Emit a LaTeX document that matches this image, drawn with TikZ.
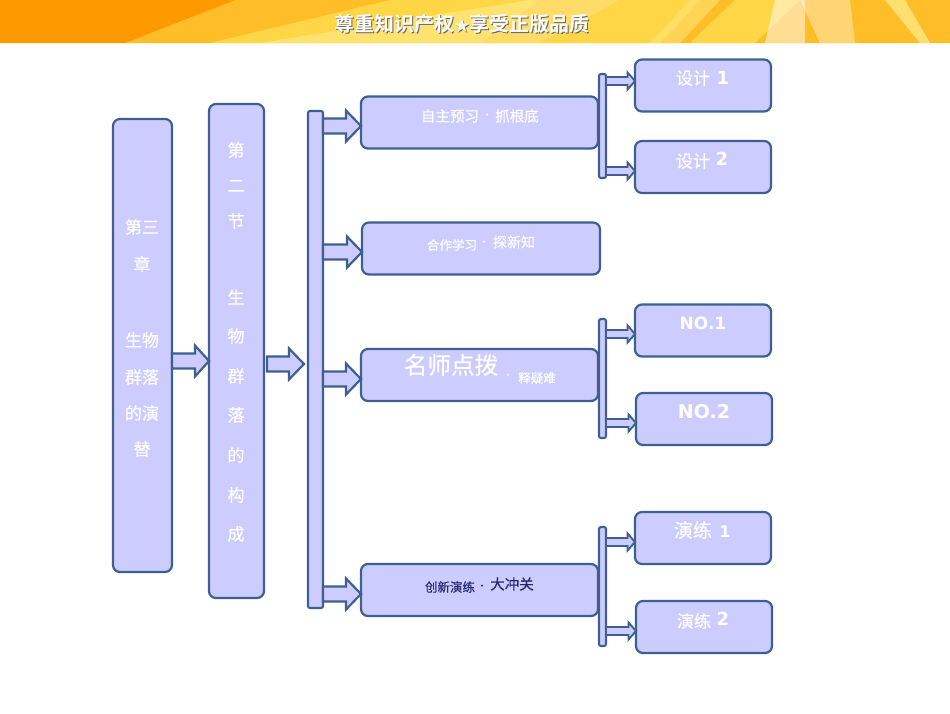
\documentclass[tikz,border=0pt]{standalone}
\usepackage{fontspec}
\usetikzlibrary{calc}
\setmainfont{DejaVu Sans}
\newfontfamily\cjk[FakeBold=0.35]{Noto Sans CJK SC}
\newfontfamily\cjkb{Noto Sans CJK SC Bold}
\definecolor{fillb}{RGB}{204,204,255}
\definecolor{edgeb}{RGB}{62,96,144}
\definecolor{darkt}{RGB}{38,38,110}
\definecolor{bo}{RGB}{255,153,0}
\definecolor{bm}{RGB}{255,190,40}
\definecolor{by}{RGB}{255,214,70}
\definecolor{bp}{RGB}{255,232,130}
\tikzset{
  box/.style={draw=edgeb,fill=fillb,line width=2.2pt,rounded corners=7pt,inner sep=0pt,outer sep=0pt,anchor=north west},
  bar/.style={draw=edgeb,fill=fillb,line width=2.1pt,rounded corners=2pt,inner sep=0pt,outer sep=0pt,anchor=north west},
  bigarrow/.style={draw=edgeb,fill=fillb,line width=2.2pt,miter limit=10},
  smallarrow/.style={draw=edgeb,fill=fillb,line width=1.9pt,miter limit=10},
  txt/.style={text=white,inner sep=0pt,font=\cjk\fontsize{17}{17}\selectfont},
  sm/.style={text=white,inner sep=0pt,font=\cjk\fontsize{14}{14}\selectfont},
  num/.style={text=white,inner sep=0pt,font=\bfseries\fontsize{18}{18}\selectfont}
}
% style, from node, to node, y, shaft half, head half, head length
\newcommand{\blockarrow}[7]{%
  \coordinate (tmpy) at (0,#4);
  \coordinate (tmps) at (#2.east |- tmpy);
  \coordinate (tmpe) at (#3.west |- tmpy);
  \draw[#1] ($(tmps)+(0,-#5)$) -- ($(tmpe)+(-#7,-#5)$) -- ($(tmpe)+(-#7,-#6)$) -- (tmpe)
    -- ($(tmpe)+(-#7,#6)$) -- ($(tmpe)+(-#7,#5)$) -- ($(tmps)+(0,#5)$) -- cycle;
}
\begin{document}
\begin{tikzpicture}[x=1pt,y=-1pt]
\useasboundingbox (0,0) rectangle (950,713);
\fill[white] (0,0) rectangle (950,713);
% banner
\begin{scope}
\clip (0,0) rectangle (950,43);
\fill[bm] (0,0) rectangle (950,43);
\fill[bm] (130,43) -- (205,43) -- (305,0) -- (215,0) -- cycle;
\fill[bo] (0,0) -- (235,0) -- (125,43) -- (0,43) -- cycle;
\fill[by] (210,43) -- (390,0) -- (540,0) -- (480,43) -- cycle;
\fill[bp,opacity=.7] (260,43) -- (530,0) -- (620,0) -- (560,43) -- cycle;
\fill[by] (540,43) -- (620,0) -- (700,0) -- (660,43) -- cycle;
\fill[bp,opacity=.5] (650,43) -- (690,0) -- (720,0) -- (680,43) -- cycle;
\fill[by] (690,43) -- (735,0) -- (800,0) -- (755,43) -- cycle;
\fill[white,opacity=.5] (765,43) -- (775,0) -- (805,0) -- (805,43) -- cycle;
\fill[white,opacity=.35] (820,43) -- (800,0) -- (850,0) -- (855,43) -- cycle;
\fill[bm] (860,43) -- (870,0) -- (950,0) -- (950,43) -- cycle;
\fill[bp,opacity=.8] (905,0) -- (930,43) -- (920,43) -- (885,0) -- cycle;
\end{scope}
\fill[bp!40!white] (0,43) rectangle (950,44);
\node[inner sep=0pt,text=black!60,font=\cjkb\fontsize{20}{20}\selectfont] (titleshadow) at (463,25) {尊重知识产权{\fontsize{15}{15}\selectfont ★}享受正版品质};
\node[inner sep=0pt,text=white,font=\cjkb\fontsize{20}{20}\selectfont] (title) at (462,24) {尊重知识产权{\fontsize{15}{15}\selectfont ★}享受正版品质};
% columns
\node[box,minimum width=59pt,minimum height=453pt] (A) at (113,119) {};
\node[box,minimum width=55pt,minimum height=494pt] (B) at (209,104) {};
\node[bar,minimum width=15pt,minimum height=497pt] (Bar) at (308,111) {};
\coordinate (abS) at (267,364);
\coordinate (abT) at (304,364);
% middle
\node[box,minimum width=237pt,minimum height=52pt] (M1) at (361,96.5) {};
\node[box,minimum width=238pt,minimum height=52pt] (M2) at (362,222.5) {};
\node[box,minimum width=237pt,minimum height=52pt] (M3) at (361,349) {};
\node[box,minimum width=237pt,minimum height=52pt] (M4) at (361,564) {};
% small bars
\node[bar,minimum width=7pt,minimum height=104pt] (b1) at (599,74) {};
\node[bar,minimum width=7pt,minimum height=119pt] (b2) at (599,319) {};
\node[bar,minimum width=7pt,minimum height=119pt] (b3) at (599,527) {};
% right
\node[box,minimum width=136pt,minimum height=52pt] (R1) at (635,59.5) {};
\node[box,minimum width=136pt,minimum height=52pt] (R2) at (635,141) {};
\node[box,minimum width=136pt,minimum height=52pt] (R3) at (635,304.5) {};
\node[box,minimum width=136pt,minimum height=52pt] (R4) at (636,393) {};
\node[box,minimum width=136pt,minimum height=52pt] (R5) at (635,512) {};
\node[box,minimum width=136pt,minimum height=52pt] (R6) at (636,601) {};
% arrows
\blockarrow{bigarrow}{A}{B}{361}{7.5}{15.5}{14}
\blockarrow{bigarrow}{abS}{abT}{364}{7.5}{15.5}{15}
\blockarrow{bigarrow}{Bar}{M1}{126}{7.5}{15.5}{15}
\blockarrow{bigarrow}{Bar}{M2}{252}{7.5}{15.5}{15}
\blockarrow{bigarrow}{Bar}{M3}{379}{7.5}{15.5}{15}
\blockarrow{bigarrow}{Bar}{M4}{594}{7.5}{15.5}{15}
\blockarrow{smallarrow}{b1}{R1}{81}{4}{8.5}{7.5}
\blockarrow{smallarrow}{b1}{R2}{171}{4}{8.5}{7.5}
\blockarrow{smallarrow}{b2}{R3}{334}{4}{8.5}{7.5}
\blockarrow{smallarrow}{b2}{R4}{423}{4}{8.5}{7.5}
\blockarrow{smallarrow}{b3}{R5}{542}{4}{8.5}{7.5}
\blockarrow{smallarrow}{b3}{R6}{631}{4}{8.5}{7.5}
% column A text
\node[txt] (a1) at (142,227) {第三};
\node[txt] (a2) at (142,264) {章};
\node[txt] (a3) at (142,340) {生物};
\node[txt] (a4) at (142,377) {群落};
\node[txt] (a5) at (142,413) {的演};
\node[txt] (a6) at (142,449) {替};
% column B text
\node[txt] (c1) at (236,150) {第};
\node[txt] (c2) at (236,186) {二};
\node[txt] (c3) at (236,221) {节};
\node[txt] (c4) at (236,297) {生};
\node[txt] (c5) at (236,336) {物};
\node[txt] (c6) at (236,376) {群};
\node[txt] (c7) at (236,415) {落};
\node[txt] (c8) at (236,455) {的};
\node[txt] (c9) at (236,495) {构};
\node[txt] (c10) at (236,534) {成};
% middle text
\node[sm,font=\cjk\fontsize{14.5}{15}\selectfont] (t1a) at (450,116) {自主预习};
\node[sm,font=\cjk\fontsize{10}{10}\selectfont] (t1d) at (487,116) {·};
\node[sm,font=\cjk\fontsize{14.5}{15}\selectfont] (t1b) at (517,116) {抓根底};
\node[sm,font=\cjk\fontsize{12.5}{13}\selectfont] (t2a) at (452,245) {合作学习};
\node[sm,font=\cjk\fontsize{10}{10}\selectfont] (t2d) at (484,243) {·};
\node[sm,font=\cjk\fontsize{14}{14}\selectfont] (t2b) at (514,242) {探新知};
\node[sm,font=\cjk\fontsize{23.5}{24}\selectfont] (t3a) at (451,365) {名师点拨};
\node[sm,font=\cjk\fontsize{9}{9}\selectfont] (t3d) at (508,376) {·};
\node[sm,font=\cjk\fontsize{12.5}{13}\selectfont] (t3b) at (537,378) {释疑难};
\node[sm,text=darkt,font=\cjk\fontsize{12.5}{13}\selectfont] (t4a) at (450,587) {创新演练};
\node[sm,text=darkt,font=\cjk\fontsize{10}{10}\selectfont] (t4d) at (482,587) {·};
\node[sm,text=darkt,font=\cjk\fontsize{14.5}{15}\selectfont] (t4b) at (512,584) {大冲关};
% right text
\node[txt,font=\cjk\fontsize{17}{17}\selectfont] (r1a) at (693,78) {设计};
\node[num] (r1b) at (723,78) {1};
\node[txt,font=\cjk\fontsize{17}{17}\selectfont] (r2a) at (693,161) {设计};
\node[num] (r2b) at (722,159) {2};
\node[num,font=\bfseries\fontsize{17}{17}\selectfont] (r3) at (703,323) {NO.1};
\node[num,font=\bfseries\fontsize{19}{19}\selectfont] (r4) at (704,412) {NO.2};
\node[txt,font=\cjk\fontsize{19}{19}\selectfont] (r5a) at (693,530) {演练};
\node[num,font=\bfseries\fontsize{16}{16}\selectfont] (r5b) at (725,532) {1};
\node[txt,font=\cjk\fontsize{17}{17}\selectfont] (r6a) at (694,621) {演练};
\node[num] (r6b) at (723,619) {2};
\end{tikzpicture}
\end{document}
